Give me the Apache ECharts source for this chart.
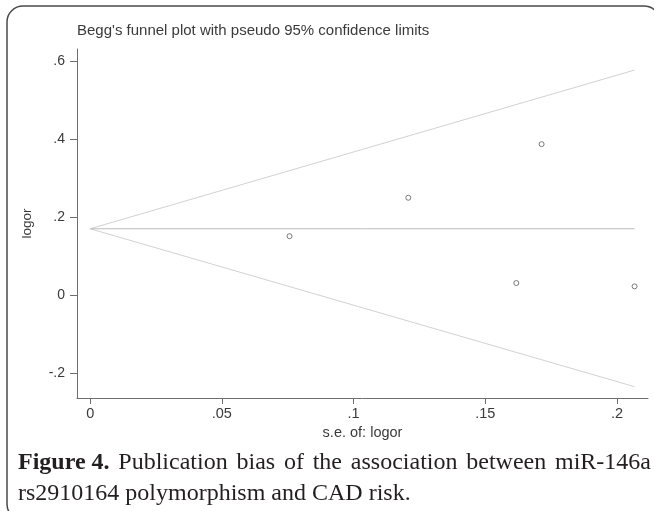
<!DOCTYPE html>
<html>
<head>
<meta charset="utf-8">
<script src="https://cdn.jsdelivr.net/npm/echarts@6/dist/echarts.min.js"></script>
<style>
html,body{margin:0;padding:0;background:#fff;}
#chart{width:654px;height:511px;}
</style>
</head>
<body>
<div id="chart"></div>
<script>
// Study-level points
const seValues = [0.0757, 0.1208, 0.1618, 0.1714, 0.2067];
const logorValues = [0.151, 0.2495, 0.0308, 0.387, 0.0223];
// Funnel (pseudo 95% limits) end points
const funnelSe = [0, 0.2067];
const pooledLogor = [0.170, 0.170];
const upperLimit = [0.170, 0.577];
const lowerLimit = [0.170, -0.235];
// Tick labels
const xTicks = [0, 0.05, 0.1, 0.15, 0.2];
const yTicks = [-0.2, 0, 0.2, 0.4, 0.6];

const titleText = "Begg's funnel plot with pseudo 95% confidence limits";
const xName = 's.e. of: logor';
const yName = 'logor';
const captionBold = 'Figure 4.';
const captionWords1 = ['Publication', 'bias', 'of', 'the', 'association', 'between', 'miR-146a'];
const captionLine2 = 'rs2910164 polymorphism and CAD risk.';

function fmt(v) {
  if (v === 0) return '0';
  return String(v).replace('0.', '.');
}
function pairs(xs, ys) { return xs.map((x, i) => [x, ys[i]]); }

const serif = '"Liberation Serif", "Times New Roman", serif';
const capSize = 24;
const capLeft = 18, capRight = 651;

// justify first caption line
const mctx = document.createElement('canvas').getContext('2d');
function tw(t, bold) {
  mctx.font = (bold ? 'bold ' : '') + capSize + 'px ' + serif;
  return mctx.measureText(t).width;
}
let used = tw(captionBold, true);
captionWords1.forEach(w => { used += tw(w, false); });
const gaps = captionWords1.length;
let spaceW = (capRight - capLeft - used) / gaps;
if (!(spaceW > 3 && spaceW < 20)) spaceW = tw(' ', false);
let line1 = '{b|' + captionBold + '}';
captionWords1.forEach(w => { line1 += '{sp| }{n|' + w + '}'; });

const chart = echarts.init(document.getElementById('chart'), null, {renderer: 'canvas'});
const axisColor = '#6e6e6e';
const labelColor = '#3a3a3a';
const sans = '"Liberation Sans", Arial, sans-serif';

chart.setOption({
  animation: false,
  backgroundColor: '#fff',
  title: {
    text: titleText,
    left: 77, top: 23,
    padding: 0,
    textStyle: {fontFamily: sans, fontSize: 15, fontWeight: 'normal', color: labelColor}
  },
  grid: {left: 77, top: 49, right: 6, bottom: 113, containLabel: false},
  xAxis: {
    type: 'value',
    min: -0.005, max: 0.2118,
    name: xName, nameLocation: 'middle', nameGap: 23,
    nameTextStyle: {fontFamily: sans, fontSize: 14.5, color: labelColor},
    axisLine: {show: true, onZero: false, lineStyle: {color: axisColor, width: 1}},
    axisTick: {show: true, length: 6, customValues: xTicks, lineStyle: {color: axisColor}},
    axisLabel: {customValues: xTicks, formatter: fmt, margin: 8, fontFamily: sans, fontSize: 14.5, color: labelColor},
    splitLine: {show: false}
  },
  yAxis: {
    type: 'value',
    min: -0.264, max: 0.631,
    name: yName, nameLocation: 'middle', nameGap: 43, nameRotate: 90,
    nameTextStyle: {fontFamily: sans, fontSize: 13.5, color: labelColor},
    axisLine: {show: true, onZero: false, lineStyle: {color: axisColor, width: 1}},
    axisTick: {show: true, length: 7, customValues: yTicks, lineStyle: {color: axisColor}},
    axisLabel: {customValues: yTicks, formatter: fmt, margin: 12, fontFamily: sans, fontSize: 14, color: labelColor},
    splitLine: {show: false}
  },
  series: [
    {type: 'line', data: pairs(funnelSe, upperLimit), symbol: 'none',
     lineStyle: {color: '#d2d2d2', width: 1}, silent: true},
    {type: 'line', data: pairs(funnelSe, lowerLimit), symbol: 'none',
     lineStyle: {color: '#d2d2d2', width: 1}, silent: true},
    {type: 'line', data: pairs(funnelSe, pooledLogor), symbol: 'none',
     lineStyle: {color: '#bdbdbd', width: 1}, silent: true},
    {type: 'scatter', data: pairs(seValues, logorValues), symbol: 'circle', symbolSize: 5,
     itemStyle: {color: '#fff', borderColor: '#5a5a5a', borderWidth: 1}}
  ],
  graphic: [
    {type: 'rect', shape: {x: 7, y: 6, width: 653, height: 514, r: 16},
     style: {fill: 'none', stroke: '#4a4a4a', lineWidth: 1.5}, silent: true},
    {type: 'text', left: capLeft, top: 451,
     style: {
       text: line1,
       rich: {
         b: {fontFamily: serif, fontWeight: 'bold', fontSize: capSize, fill: '#231f20'},
         n: {fontFamily: serif, fontSize: capSize, fill: '#231f20'},
         sp: {fontFamily: serif, fontSize: capSize, width: spaceW}
       }
     }},
    {type: 'text', left: capLeft, top: 482,
     style: {text: captionLine2, fontFamily: serif, fontSize: capSize, fill: '#231f20'}}
  ]
});
</script>
</body>
</html>
